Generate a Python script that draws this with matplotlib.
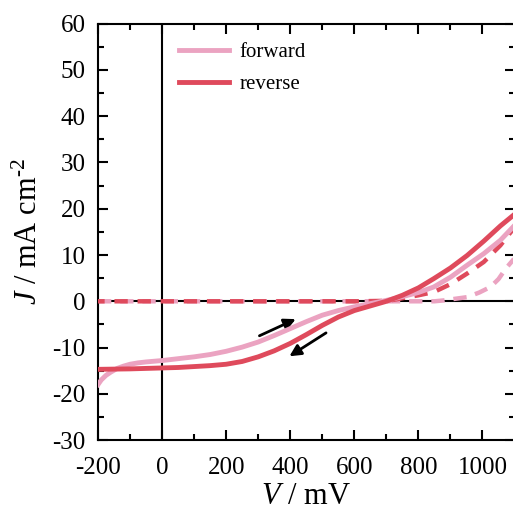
import numpy as np
import matplotlib
matplotlib.use('Agg')
import matplotlib.pyplot as plt
from matplotlib.ticker import MultipleLocator

plt.rcParams['font.family'] = 'Liberation Serif'
plt.rcParams['mathtext.fontset'] = 'custom'
plt.rcParams['mathtext.rm'] = 'Liberation Serif'
plt.rcParams['mathtext.it'] = 'Liberation Serif:italic'
plt.rcParams['axes.unicode_minus'] = False

# forward scan (light), solid
fwd_v = [-200, -190, -175, -160, -140, -120, -100, -75, -50, -25, 0, 50, 100, 150, 200, 250, 300, 350, 400, 450,
         500, 550, 600, 650, 700, 750, 800, 848, 900, 952, 1004, 1056, 1100]
fwd_j = [-18.0, -17.0, -16.0, -15.3, -14.5, -14.0, -13.6, -13.3, -13.1, -12.95, -12.8, -12.4, -12.0, -11.5, -10.8,
         -9.9, -8.8, -7.4, -5.9, -4.4, -3.0, -2.0, -1.2, -0.5, 0.2, 1.0, 1.9, 3.1, 5.2, 7.8, 10.3, 13.2, 16.4]
# reverse scan, solid
rev_v = [-200, -100, 0, 50, 100, 150, 200, 250, 300, 350, 400, 450, 500, 550, 600, 650, 700, 750, 800, 848,
         900, 952, 1004, 1056, 1100]
rev_j = [-14.7, -14.6, -14.4, -14.3, -14.1, -13.9, -13.6, -13.0, -12.0, -10.7, -9.1, -7.2, -5.2, -3.4, -2.0,
         -1.0, 0.0, 1.3, 2.9, 4.9, 7.2, 9.9, 13.0, 16.3, 18.8]
# dark curves (dashed)
dark_fwd_v = [-200, 0, 200, 400, 600, 800, 850, 880, 910, 952, 990, 1025, 1050, 1073, 1100]
dark_fwd_j = [0, 0, 0, 0, 0, 0, 0, 0.2, 0.5, 0.9, 1.9, 3.1, 4.8, 7.1, 9.3]
dark_rev_v = [-200, 0, 200, 400, 600, 700, 730, 760, 800, 848, 900, 952, 1004, 1056, 1100]
dark_rev_j = [0, 0, 0, 0, 0, 0.1, 0.4, 0.8, 1.3, 2.0, 3.7, 6.0, 8.5, 12.1, 16.0]

pink = '#EBA3C1'
red = '#DF4A5C'

fig = plt.figure(figsize=(5.13, 5.13), dpi=100)
ax = fig.add_axes([0.191, 0.142, 0.812, 0.812])

ax.axhline(0, color='black', lw=1.5, zorder=1)
ax.axvline(0, color='black', lw=1.5, zorder=1)

ax.plot(dark_fwd_v, dark_fwd_j, color=pink, lw=3.2, ls=(0, (3, 2)), zorder=2)
ax.plot(dark_rev_v, dark_rev_j, color=red, lw=3.2, ls=(1.5, (3, 2.2)), zorder=3)
ax.plot(fwd_v, fwd_j, color=pink, lw=3.5, label='forward', zorder=4)
ax.plot(rev_v, rev_j, color=red, lw=3.5, label='reverse', zorder=5)

# scan direction arrows
ax.annotate('', xy=(425, -3.6), xytext=(296, -7.7),
            arrowprops=dict(arrowstyle='-|>', color='black', lw=2, mutation_scale=17))
ax.annotate('', xy=(390, -12.2), xytext=(519, -6.5),
            arrowprops=dict(arrowstyle='-|>', color='black', lw=2, mutation_scale=17))

ax.set_xlim(-200, 1100)
ax.set_ylim(-30, 60)
ax.xaxis.set_major_locator(MultipleLocator(200))
ax.xaxis.set_minor_locator(MultipleLocator(100))
ax.yaxis.set_major_locator(MultipleLocator(10))
ax.yaxis.set_minor_locator(MultipleLocator(5))
ax.tick_params(which='both', direction='in', top=True, right=True, width=1.5, labelsize=18)
ax.tick_params(which='major', length=7)
ax.tick_params(which='minor', length=4)
ax.tick_params(axis='x', which='major', pad=12)
ax.tick_params(axis='y', which='major', pad=9)
for s in ax.spines.values():
    s.set_linewidth(1.5)

ax.set_xlabel(r'$V$ / mV', fontsize=22, labelpad=2)
ax.set_ylabel(r'$J$ / mA cm$^{\text{-2}}$', fontsize=22, labelpad=6)

ax.legend(loc='upper left', bbox_to_anchor=(0.15, 1.0), frameon=False, fontsize=15,
          handlelength=2.4, handletextpad=0.5, labelspacing=0.6)

fig.savefig('out.png', dpi=100)
